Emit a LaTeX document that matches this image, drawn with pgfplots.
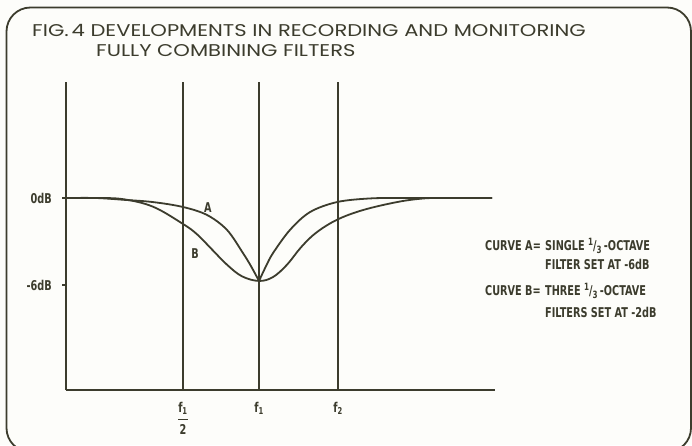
\documentclass[border=0pt]{standalone}
\usepackage{pgfplots}
\pgfplotsset{compat=1.18}
\usepackage{amsmath}
\usepackage{fontspec}
\setmainfont{DejaVu Sans}
\newfontfamily\titlefont{Poppins}[FakeStretch=1.24]
\newfontfamily\lf{DejaVu Sans Condensed}[FakeStretch=0.8]
\definecolor{ink}{RGB}{60,60,45}
\definecolor{paper}{RGB}{253,253,250}
\newcommand\lbl{\lf\bfseries\fontsize{13.5}{14}\selectfont}
\newcommand\third{\raisebox{0.55ex}{\fontsize{10}{10}\selectfont 1}/\raisebox{-0.45ex}{\fontsize{10}{10}\selectfont 3}}

\begin{document}
\begin{tikzpicture}
\useasboundingbox (0pt,0pt) rectangle (692pt,445pt);
\clip (0pt,0pt) rectangle (692pt,445pt);
\fill[paper] (0pt,0pt) rectangle (692pt,445pt);
% frame
\draw[ink, line width=1.8pt, rounded corners=24pt] (6.5pt,-7pt) rectangle (691pt,437.5pt);
% title
\node[anchor=base west, inner sep=0pt, text=ink, font=\titlefont\fontsize{17}{17}\selectfont]
  at (32pt,408pt) {FIG.\,4 DEVELOPMENTS IN RECORDING AND MONITORING};
\node[anchor=base west, inner sep=0pt, text=ink, font=\titlefont\fontsize{17}{17}\selectfont]
  at (96pt,388pt) {FULLY COMBINING FILTERS};

\begin{axis}[
    at={(66pt,55pt)}, anchor=south west,
    scale only axis, width=429pt, height=308pt,
    xmin=0, xmax=429, ymin=-13.24, ymax=8,
    axis x line=bottom, axis y line=left,
    axis line style={-, ink, line width=1.8pt},
    xtick={117,193,272},
    xticklabels={{$\genfrac{}{}{1.4pt}{0}{\hbox{\lbl f\textsubscript{1}}}{\hbox{\lbl 2}}$},
                 {\lbl f\textsubscript{1}}, {\lbl f\textsubscript{2}}},
    ytick={-6,0}, yticklabels={-6dB,0dB},
    tick align=outside, major tick length=4pt,
    xtick style={draw=none},
    ytick style={ink, line width=1.5pt},
    yticklabel style={font=\lbl, text=ink, inner sep=0pt, xshift=-10pt},
    xticklabel style={text=ink, inner sep=0pt, yshift=-8pt},
    clip=false,
]
% vertical marker lines at f1/2, f1, f2
\addplot[ink, line width=1.8pt] coordinates {(117,-13.24) (117,8)};
\addplot[ink, line width=1.8pt] coordinates {(193,-13.24) (193,8)};
\addplot[ink, line width=1.8pt] coordinates {(272,-13.24) (272,8)};

% curve A, left and right of the cusp at f1
\addplot[ink, line width=1.8pt, smooth, tension=0.55] coordinates {
    (0,0) (30,0) (57,-0.12) (87,-0.28) (117,-0.62) (141,-1.17)
    (161,-2.2) (177,-3.8) (185,-4.7) (193,-5.72)
};
\addplot[ink, line width=1.8pt, smooth, tension=0.55] coordinates {
    (193,-5.72) (200,-4.7) (207,-3.8) (224,-2.2) (244,-0.97)
    (271,-0.28) (304,-0.03) (340,0) (426,0)
};
% curve B
\addplot[ink, line width=1.8pt, smooth, tension=0.6] coordinates {
    (0,0) (30,0) (57,-0.08) (87,-0.6) (117,-1.79) (131,-2.5)
    (146,-3.55) (161,-4.6) (176,-5.4) (193,-5.72) (207,-5.45)
    (221,-4.6) (235,-3.4) (250,-2.4) (271,-1.5) (297,-0.83)
    (331,-0.28) (356,-0.04) (375,0) (426,0)
};

\node[font=\lbl, text=ink] at (axis cs:142,-0.69) {A};
\node[font=\lbl, text=ink] at (axis cs:129,-3.86) {B};
\end{axis}

% key at the right
\begin{scope}[every node/.style={anchor=base west, inner sep=0pt, text=ink, font=\lbl}]
\node at (485pt,195pt) {CURVE A=};
\node at (545pt,195pt) {SINGLE \third\,-OCTAVE};
\node at (545pt,176pt) {FILTER SET AT -6dB};
\node at (485pt,150pt) {CURVE B=};
\node at (545pt,150pt) {THREE \third\,-OCTAVE};
\node at (545pt,128pt) {FILTERS SET AT -2dB};
\end{scope}
\end{tikzpicture}
\end{document}
